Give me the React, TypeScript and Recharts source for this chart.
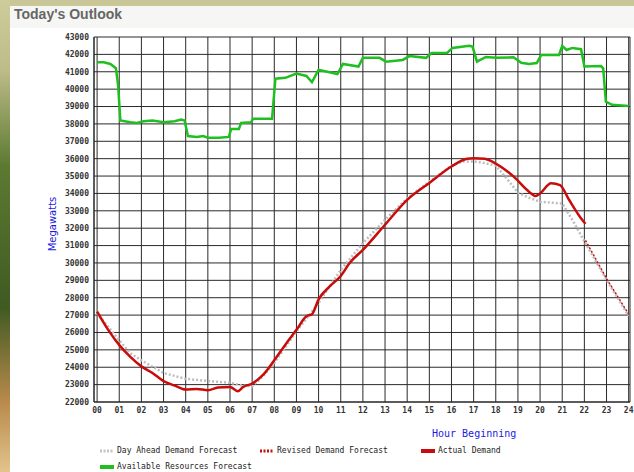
import { LineChart, Line, XAxis, YAxis, CartesianGrid } from 'recharts';

// hour ticks 00..24
const hourTicks = [0, 1, 2, 3, 4, 5, 6, 7, 8, 9, 10, 11, 12, 13, 14, 15, 16, 17, 18, 19, 20, 21, 22, 23, 24];
const mwTicks = [
  22000, 23000, 24000, 25000, 26000, 27000, 28000, 29000, 30000, 31000, 32000,
  33000, 34000, 35000, 36000, 37000, 38000, 39000, 40000, 41000, 42000, 43000,
];

// Available Resources Forecast
const resourceHours = [
  0, 0.3, 0.6, 0.85, 0.95, 1.05, 1.5, 1.8, 2.1, 2.5, 3.0, 3.5, 3.8, 3.95, 4.1, 4.5, 4.8, 5.0, 5.5, 5.95,
  6.05, 6.4, 6.5, 6.95, 7.05, 7.9, 8.05, 8.5, 9.0, 9.45, 9.7, 10.0, 10.4, 10.85, 11.1, 11.8, 12.0, 12.75,
  13.05, 13.8, 14.1, 14.85, 15.1, 15.8, 16.05, 16.8, 16.95, 17.15, 17.55, 18.0, 18.8, 19.15, 19.5, 19.85,
  20.05, 20.85, 21.0, 21.2, 21.45, 21.85, 22.0, 22.75, 22.85, 22.97, 23.25, 24.0,
];
const resourceValues = [
  41550, 41550, 41450, 41200, 40200, 38200, 38100, 38050, 38150, 38200, 38100, 38150, 38250, 38200, 37300,
  37250, 37300, 37200, 37200, 37250, 37700, 37700, 38050, 38100, 38300, 38300, 40600, 40650, 40900, 40760,
  40400, 41100, 41000, 40870, 41450, 41300, 41800, 41800, 41580, 41680, 41900, 41800, 42080, 42080, 42370,
  42500, 42450, 41580, 41850, 41800, 41830, 41520, 41450, 41500, 41960, 41960, 42480, 42250, 42370, 42300,
  41300, 41330, 41200, 39280, 39100, 39030,
];

// Actual Demand
const actualHours = [
  0, 0.5, 1.05, 1.5, 2.0, 2.5, 3.0, 3.5, 4.0, 4.5, 5.0, 5.45, 6.0, 6.35, 6.6, 7.0, 7.5, 8.0, 8.5, 9.0,
  9.45, 9.7, 10.0, 10.5, 11.0, 11.4, 12.0, 13.0, 14.0, 15.0, 16.0, 16.7, 17.0, 17.5, 18.0, 18.8, 19.5,
  19.8, 20.0, 20.5, 20.9, 21.3, 21.9, 22.05,
];
const actualValues = [
  27200, 26150, 25200, 24600, 24050, 23670, 23200, 22950, 22720, 22750, 22680, 22830, 22870, 22620, 22870,
  23060, 23570, 24400, 25300, 26150, 26930, 27050, 27900, 28650, 29250, 30000, 30750, 32200, 33630, 34600,
  35550, 35990, 36030, 35990, 35720, 34980, 34100, 33850, 34000, 34590, 34480, 33650, 32480, 32250,
];

// Day Ahead Demand Forecast
const dayAheadHours = [
  0, 1, 1.5, 2, 3, 4, 5, 6, 6.5, 7, 7.5, 8, 9, 10, 11, 12, 13, 14, 15, 16, 16.5, 17, 17.5, 18, 18.5, 19,
  19.5, 20, 20.5, 21, 21.5, 22, 23, 24,
];
const dayAheadValues = [
  27100, 25550, 24800, 24400, 23670, 23330, 23210, 23100, 22960, 22900, 23490, 24250, 26060, 27700, 29600,
  31140, 32480, 33730, 34680, 35590, 35840, 35840, 35750, 35600, 34850, 34050, 33750, 33520, 33470, 33420,
  32390, 31240, 29030, 26950,
];

// Revised Demand Forecast
const revisedHours = [22.05, 23, 24];
const revisedValues = [31300, 29100, 27050];

const zip = (hs: number[], vs: number[]) => hs.map((h, i) => ({ h, v: vs[i] }));

const tickStyle = { fontFamily: 'DejaVu Sans Mono', fontSize: 8, fontWeight: 'bold', fill: '#333' };
const legendText = { fontFamily: 'DejaVu Sans Mono', fontSize: 8, color: '#222' };

function Swatch({ color, dash, thick }: { color: string; dash?: boolean; thick?: boolean }) {
  return (
    <svg width={16} height={6} style={{ marginRight: 2 }}>
      <line
        x1={1}
        y1={3}
        x2={15}
        y2={3}
        stroke={color}
        strokeWidth={thick ? 4 : 3}
        strokeDasharray={dash ? '2 1.5' : undefined}
      />
    </svg>
  );
}

function LegendItem({ x, y, label, ...sw }: { x: number; y: number; label: string; color: string; dash?: boolean; thick?: boolean }) {
  return (
    <div style={{ position: 'absolute', left: x, top: y, display: 'flex', alignItems: 'center', ...legendText }}>
      <Swatch {...sw} />
      <span>{label}</span>
    </div>
  );
}

export default function App() {
  return (
    <div style={{ position: 'absolute', left: 0, top: 0, width: 634, height: 472, overflow: 'hidden', background: '#fff' }}>
      <div style={{ position: 'absolute', left: 0, top: 0, width: 634, height: 6, background: '#c9c797' }} />
      <div
        style={{
          position: 'absolute',
          left: 0,
          top: 0,
          width: 10,
          height: 472,
          background: 'linear-gradient(#cfcc9c 0%, #bdbb88 15%, #5d7a32 35%, #3f5a22 65%, #b88a4c 85%, #e2c48c 100%)',
        }}
      />
      <div style={{ position: 'absolute', left: 10, top: 6, width: 624, height: 22, background: '#f6f6f4' }} />
      <div
        style={{
          position: 'absolute',
          left: 14,
          top: 6,
          fontFamily: 'Liberation Sans',
          fontWeight: 'bold',
          fontSize: 14,
          color: '#666',
        }}
      >
        Today's Outlook
      </div>
      <div style={{ position: 'absolute', left: 0, top: 0 }}>
        <LineChart width={634} height={472} margin={{ top: 37, right: 4, bottom: 0, left: 0 }}>
          <CartesianGrid stroke="#2a2a2a" strokeWidth={1} />
          <XAxis
            type="number"
            dataKey="h"
            domain={[-0.14, 24.06]}
            ticks={hourTicks}
            allowDataOverflow
            tickFormatter={(h: number) => String(h).padStart(2, '0')}
            tick={tickStyle}
            tickSize={0}
            tickMargin={5}
            axisLine={{ stroke: '#222' }}
            height={70}
            interval={0}
          />
          <YAxis
            type="number"
            domain={[22000, 43000]}
            ticks={mwTicks}
            allowDataOverflow
            tick={tickStyle}
            tickSize={0}
            tickMargin={5}
            axisLine={{ stroke: '#222' }}
            width={94}
            interval={0}
          />
          <Line
            data={zip(dayAheadHours, dayAheadValues)}
            dataKey="v"
            stroke="#bdbdbd"
            strokeWidth={2.5}
            strokeDasharray="2 2"
            dot={false}
            type="linear"
            isAnimationActive={false}
          />
          <Line
            data={zip(revisedHours, revisedValues)}
            dataKey="v"
            stroke="#c41010"
            strokeWidth={1.5}
            strokeDasharray="2 2"
            dot={false}
            type="linear"
            isAnimationActive={false}
          />
          <Line
            data={zip(actualHours, actualValues)}
            dataKey="v"
            stroke="#c80c0c"
            strokeWidth={2.5}
            dot={false}
            type="monotone"
            isAnimationActive={false}
          />
          <Line
            data={zip(resourceHours, resourceValues)}
            dataKey="v"
            stroke="#1fbf1f"
            strokeWidth={2.5}
            dot={false}
            type="linear"
            isAnimationActive={false}
          />
        </LineChart>
      </div>
      <div
        style={{
          position: 'absolute',
          left: 52,
          top: 224,
          transform: 'translate(-50%, -50%) rotate(-90deg)',
          fontFamily: 'DejaVu Sans',
          fontSize: 10,
          color: '#1a1ae0',
          whiteSpace: 'nowrap',
        }}
      >
        Megawatts
      </div>
      <div
        style={{
          position: 'absolute',
          left: 432,
          top: 428,
          fontFamily: 'DejaVu Sans Mono',
          fontSize: 10,
          color: '#1a1ae0',
          whiteSpace: 'nowrap',
        }}
      >
        Hour Beginning
      </div>
      <LegendItem x={99} y={446} label="Day Ahead Demand Forecast" color="#c4c4c4" dash />
      <LegendItem x={259} y={446} label="Revised Demand Forecast" color="#c41010" dash />
      <LegendItem x={420} y={446} label="Actual Demand" color="#c80c0c" thick />
      <LegendItem x={99} y={462} label="Available Resources Forecast" color="#1fbf1f" thick />
    </div>
  );
}
